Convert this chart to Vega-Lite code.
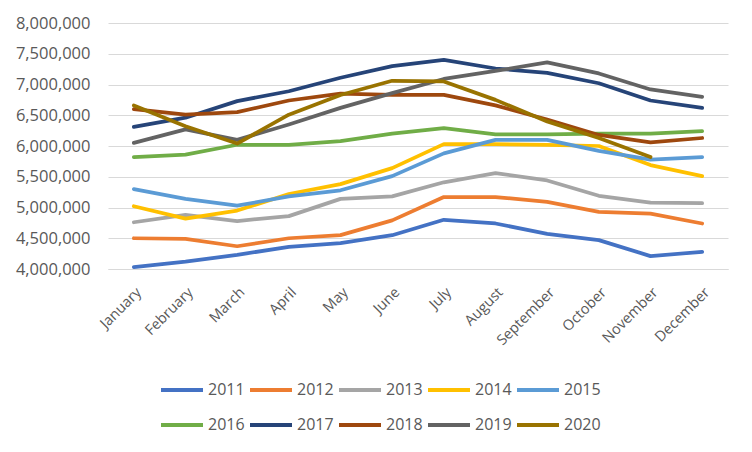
{
  "$schema": "https://vega.github.io/schema/vega-lite/v6.json",
  "width": 620,
  "height": 246,
  "autosize": {"type": "none"},
  "padding": {"left": 108, "top": 23, "right": 24, "bottom": 183},
  "background": "#ffffff",
  "config": {
    "font": "Open Sans",
    "view": {"stroke": null},
    "axis": {"labelFont": "Open Sans", "labelColor": "#595959"},
    "legend": {"labelFont": "Open Sans", "labelColor": "#595959"}
  },
  "datasets": {
    "sales": [
      {"month": "January", "year": "2011", "value": 4030000},
      {"month": "February", "year": "2011", "value": 4120000},
      {"month": "March", "year": "2011", "value": 4230000},
      {"month": "April", "year": "2011", "value": 4360000},
      {"month": "May", "year": "2011", "value": 4420000},
      {"month": "June", "year": "2011", "value": 4550000},
      {"month": "July", "year": "2011", "value": 4800000},
      {"month": "August", "year": "2011", "value": 4740000},
      {"month": "September", "year": "2011", "value": 4570000},
      {"month": "October", "year": "2011", "value": 4470000},
      {"month": "November", "year": "2011", "value": 4210000},
      {"month": "December", "year": "2011", "value": 4280000},

      {"month": "January", "year": "2012", "value": 4500000},
      {"month": "February", "year": "2012", "value": 4490000},
      {"month": "March", "year": "2012", "value": 4370000},
      {"month": "April", "year": "2012", "value": 4500000},
      {"month": "May", "year": "2012", "value": 4550000},
      {"month": "June", "year": "2012", "value": 4790000},
      {"month": "July", "year": "2012", "value": 5170000},
      {"month": "August", "year": "2012", "value": 5170000},
      {"month": "September", "year": "2012", "value": 5090000},
      {"month": "October", "year": "2012", "value": 4930000},
      {"month": "November", "year": "2012", "value": 4900000},
      {"month": "December", "year": "2012", "value": 4740000},

      {"month": "January", "year": "2013", "value": 4760000},
      {"month": "February", "year": "2013", "value": 4880000},
      {"month": "March", "year": "2013", "value": 4780000},
      {"month": "April", "year": "2013", "value": 4860000},
      {"month": "May", "year": "2013", "value": 5140000},
      {"month": "June", "year": "2013", "value": 5180000},
      {"month": "July", "year": "2013", "value": 5410000},
      {"month": "August", "year": "2013", "value": 5560000},
      {"month": "September", "year": "2013", "value": 5440000},
      {"month": "October", "year": "2013", "value": 5190000},
      {"month": "November", "year": "2013", "value": 5080000},
      {"month": "December", "year": "2013", "value": 5070000},

      {"month": "January", "year": "2014", "value": 5020000},
      {"month": "February", "year": "2014", "value": 4820000},
      {"month": "March", "year": "2014", "value": 4950000},
      {"month": "April", "year": "2014", "value": 5220000},
      {"month": "May", "year": "2014", "value": 5380000},
      {"month": "June", "year": "2014", "value": 5640000},
      {"month": "July", "year": "2014", "value": 6030000},
      {"month": "August", "year": "2014", "value": 6030000},
      {"month": "September", "year": "2014", "value": 6020000},
      {"month": "October", "year": "2014", "value": 6000000},
      {"month": "November", "year": "2014", "value": 5690000},
      {"month": "December", "year": "2014", "value": 5510000},

      {"month": "January", "year": "2015", "value": 5300000},
      {"month": "February", "year": "2015", "value": 5140000},
      {"month": "March", "year": "2015", "value": 5030000},
      {"month": "April", "year": "2015", "value": 5180000},
      {"month": "May", "year": "2015", "value": 5280000},
      {"month": "June", "year": "2015", "value": 5510000},
      {"month": "July", "year": "2015", "value": 5880000},
      {"month": "August", "year": "2015", "value": 6100000},
      {"month": "September", "year": "2015", "value": 6100000},
      {"month": "October", "year": "2015", "value": 5920000},
      {"month": "November", "year": "2015", "value": 5780000},
      {"month": "December", "year": "2015", "value": 5820000},

      {"month": "January", "year": "2016", "value": 5820000},
      {"month": "February", "year": "2016", "value": 5860000},
      {"month": "March", "year": "2016", "value": 6020000},
      {"month": "April", "year": "2016", "value": 6020000},
      {"month": "May", "year": "2016", "value": 6080000},
      {"month": "June", "year": "2016", "value": 6200000},
      {"month": "July", "year": "2016", "value": 6290000},
      {"month": "August", "year": "2016", "value": 6190000},
      {"month": "September", "year": "2016", "value": 6190000},
      {"month": "October", "year": "2016", "value": 6200000},
      {"month": "November", "year": "2016", "value": 6200000},
      {"month": "December", "year": "2016", "value": 6240000},

      {"month": "January", "year": "2017", "value": 6310000},
      {"month": "February", "year": "2017", "value": 6460000},
      {"month": "March", "year": "2017", "value": 6730000},
      {"month": "April", "year": "2017", "value": 6890000},
      {"month": "May", "year": "2017", "value": 7110000},
      {"month": "June", "year": "2017", "value": 7300000},
      {"month": "July", "year": "2017", "value": 7400000},
      {"month": "August", "year": "2017", "value": 7260000},
      {"month": "September", "year": "2017", "value": 7190000},
      {"month": "October", "year": "2017", "value": 7020000},
      {"month": "November", "year": "2017", "value": 6740000},
      {"month": "December", "year": "2017", "value": 6620000},

      {"month": "January", "year": "2018", "value": 6600000},
      {"month": "February", "year": "2018", "value": 6510000},
      {"month": "March", "year": "2018", "value": 6550000},
      {"month": "April", "year": "2018", "value": 6740000},
      {"month": "May", "year": "2018", "value": 6850000},
      {"month": "June", "year": "2018", "value": 6830000},
      {"month": "July", "year": "2018", "value": 6830000},
      {"month": "August", "year": "2018", "value": 6660000},
      {"month": "September", "year": "2018", "value": 6430000},
      {"month": "October", "year": "2018", "value": 6180000},
      {"month": "November", "year": "2018", "value": 6060000},
      {"month": "December", "year": "2018", "value": 6130000},

      {"month": "January", "year": "2019", "value": 6050000},
      {"month": "February", "year": "2019", "value": 6270000},
      {"month": "March", "year": "2019", "value": 6100000},
      {"month": "April", "year": "2019", "value": 6350000},
      {"month": "May", "year": "2019", "value": 6620000},
      {"month": "June", "year": "2019", "value": 6860000},
      {"month": "July", "year": "2019", "value": 7090000},
      {"month": "August", "year": "2019", "value": 7220000},
      {"month": "September", "year": "2019", "value": 7360000},
      {"month": "October", "year": "2019", "value": 7180000},
      {"month": "November", "year": "2019", "value": 6920000},
      {"month": "December", "year": "2019", "value": 6800000},

      {"month": "January", "year": "2020", "value": 6660000},
      {"month": "February", "year": "2020", "value": 6320000},
      {"month": "March", "year": "2020", "value": 6040000},
      {"month": "April", "year": "2020", "value": 6510000},
      {"month": "May", "year": "2020", "value": 6830000},
      {"month": "June", "year": "2020", "value": 7060000},
      {"month": "July", "year": "2020", "value": 7050000},
      {"month": "August", "year": "2020", "value": 6750000},
      {"month": "September", "year": "2020", "value": 6400000},
      {"month": "October", "year": "2020", "value": 6130000},
      {"month": "November", "year": "2020", "value": 5820000}
    ]
  },
  "data": {"name": "sales"},
  "mark": {"type": "line", "strokeWidth": 3.75, "strokeCap": "round", "strokeJoin": "round"},
  "encoding": {
    "x": {
      "field": "month",
      "type": "ordinal",
      "sort": ["January", "February", "March", "April", "May", "June", "July", "August", "September", "October", "November", "December"],
      "scale": {"type": "point", "padding": 0.5},
      "title": null,
      "axis": {
        "domain": true,
        "domainColor": "#D9D9D9",
        "domainWidth": 1,
        "ticks": false,
        "labelAngle": -45,
        "labelFontSize": 14.5,
        "labelPadding": 16
      }
    },
    "y": {
      "field": "value",
      "type": "quantitative",
      "scale": {"domain": [4000000, 8000000], "nice": false, "zero": false},
      "title": null,
      "axis": {
        "values": [4000000, 4500000, 5000000, 5500000, 6000000, 6500000, 7000000, 7500000, 8000000],
        "format": ",.0f",
        "domain": false,
        "ticks": false,
        "grid": true,
        "gridColor": "#D9D9D9",
        "gridWidth": 1.2,
        "labelFontSize": 16.5,
        "labelPadding": 18
      }
    },
    "color": {
      "field": "year",
      "type": "nominal",
      "title": null,
      "scale": {
        "domain": ["2011", "2012", "2013", "2014", "2015", "2016", "2017", "2018", "2019", "2020"],
        "range": ["#4472C4", "#ED7D31", "#A5A5A5", "#FFC000", "#5B9BD5", "#70AD47", "#264478", "#9E480E", "#636363", "#997300"]
      },
      "legend": {
        "orient": "none",
        "legendX": 51,
        "legendY": 344,
        "direction": "horizontal",
        "columns": 5,
        "symbolType": "stroke",
        "symbolSize": 1764,
        "symbolStrokeWidth": 4,
        "labelFontSize": 16,
        "labelOffset": 3,
        "columnPadding": -3,
        "rowPadding": 4
      }
    }
  }
}
